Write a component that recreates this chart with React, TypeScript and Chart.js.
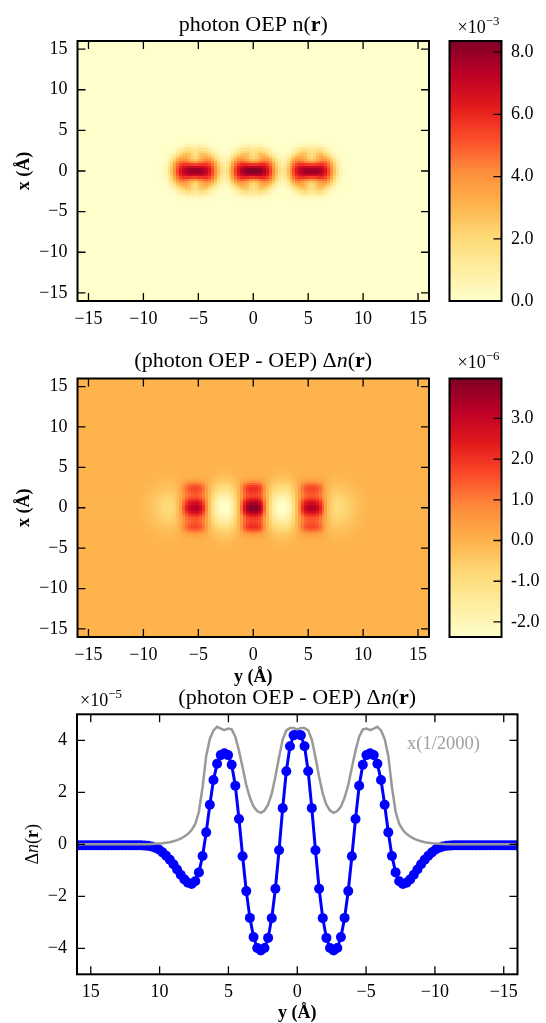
import React, { useEffect, useRef } from "react";
import { Chart, registerables } from "chart.js";

Chart.register(...registerables);

const PAGE_W = 546;
const PAGE_H = 1023;
const SERIF = '"Liberation Serif", "Times New Roman", serif';

// ---------- data ----------
// sample positions along y (Å), 0.5 bohr grid
const GRID_Y = [
  -15.875, -15.611, -15.346, -15.082, -14.817, -14.552, -14.288, -14.023, -13.759, -13.494,
  -13.229, -12.965, -12.7, -12.436, -12.171, -11.906, -11.642, -11.377, -11.113, -10.848,
  -10.584, -10.319, -10.054, -9.79, -9.525, -9.261, -8.996, -8.731, -8.467, -8.202,
  -7.938, -7.673, -7.408, -7.144, -6.879, -6.615, -6.35, -6.086, -5.821, -5.556,
  -5.292, -5.027, -4.763, -4.498, -4.233, -3.969, -3.704, -3.44, -3.175, -2.91,
  -2.646, -2.381, -2.117, -1.852, -1.588, -1.323, -1.058, -0.794, -0.529, -0.265,
  0,
  0.265, 0.529, 0.794, 1.058, 1.323, 1.588, 1.852, 2.117, 2.381, 2.646,
  2.91, 3.175, 3.44, 3.704, 3.969, 4.233, 4.498, 4.763, 5.027, 5.292,
  5.556, 5.821, 6.086, 6.35, 6.615, 6.879, 7.144, 7.408, 7.673, 7.938,
  8.202, 8.467, 8.731, 8.996, 9.261, 9.525, 9.79, 10.054, 10.319, 10.584,
  10.848, 11.113, 11.377, 11.642, 11.906, 12.171, 12.436, 12.7, 12.965, 13.229,
  13.494, 13.759, 14.023, 14.288, 14.552, 14.817, 15.082, 15.346, 15.611, 15.875,
];

// (photon OEP - OEP) Δn along y, ×1e-5
const DN_LINE = [
  -0.04, -0.04, -0.04, -0.04, -0.04, -0.04, -0.04, -0.04, -0.04, -0.04,
  -0.04, -0.04, -0.04, -0.04, -0.04, -0.04, -0.04, -0.04, -0.05, -0.06,
  -0.08, -0.13, -0.2, -0.31, -0.44, -0.59, -0.77, -0.97, -1.17, -1.35,
  -1.48, -1.53, -1.42, -1.08, -0.45, 0.46, 1.52, 2.47, 3.1, 3.43,
  3.5, 3.43, 3.06, 2.25, 0.97, -0.46, -1.8, -2.83, -3.57, -3.99,
  -4.08, -3.99, -3.6, -2.84, -1.71, -0.23, 1.39, 2.81, 3.77, 4.19,
  4.25,
  4.19, 3.77, 2.81, 1.39, -0.23, -1.71, -2.84, -3.6, -3.99, -4.08,
  -3.99, -3.57, -2.83, -1.8, -0.46, 0.97, 2.25, 3.06, 3.43, 3.5,
  3.43, 3.1, 2.47, 1.52, 0.46, -0.45, -1.08, -1.42, -1.53, -1.48,
  -1.35, -1.17, -0.97, -0.77, -0.59, -0.44, -0.31, -0.2, -0.13, -0.08,
  -0.06, -0.05, -0.04, -0.04, -0.04, -0.04, -0.04, -0.04, -0.04, -0.04,
  -0.04, -0.04, -0.04, -0.04, -0.04, -0.04, -0.04, -0.04, -0.04, -0.04,
];

// photon OEP density along y, ×(1/2000), ×1e-5
const DENSITY_LINE = [
  0, 0, 0, 0, 0, 0, 0, 0, 0, 0,
  0, 0, 0, 0, 0, 0, 0, 0, 0, 0,
  0.01, 0.02, 0.03, 0.04, 0.06, 0.08, 0.12, 0.16, 0.22, 0.3,
  0.4, 0.55, 0.78, 1.25, 2.2, 3.4, 4.05, 4.38, 4.52, 4.45,
  4.39, 4.45, 4.42, 4.14, 3.6, 2.95, 2.28, 1.8, 1.45, 1.28,
  1.21, 1.3, 1.52, 1.95, 2.6, 3.35, 4.03, 4.38, 4.47, 4.47,
  4.42,
  4.47, 4.47, 4.38, 4.03, 3.35, 2.6, 1.95, 1.52, 1.3, 1.21,
  1.28, 1.45, 1.8, 2.28, 2.95, 3.6, 4.14, 4.42, 4.45, 4.39,
  4.45, 4.52, 4.38, 4.05, 3.4, 2.2, 1.25, 0.78, 0.55, 0.4,
  0.3, 0.22, 0.16, 0.12, 0.08, 0.06, 0.04, 0.03, 0.02, 0.01,
  0, 0, 0, 0, 0, 0, 0, 0, 0, 0,
  0, 0, 0, 0, 0, 0, 0, 0, 0, 0,
];

const MAP_TICKS = [-15, -10, -5, 0, 5, 10, 15];
const LINE_X_TICKS = [-15, -10, -5, 0, 5, 10, 15];
const LINE_Y_TICKS = [-4, -2, 0, 2, 4];
const CB1_TICKS = [0, 2, 4, 6, 8];
const CB1_LABELS = ["0.0", "2.0", "4.0", "6.0", "8.0"];
const CB1_RANGE = [0, 8.36]; // ×1e-3
const CB2_TICKS = [-2, -1, 0, 1, 2, 3];
const CB2_LABELS = ["-2.0", "-1.0", "0.0", "1.0", "2.0", "3.0"];
const CB2_RANGE = [-2.37, 3.98]; // ×1e-6

// density map: three atoms along y (×1e-3)
const ATOM_Y = [-5.29, 0, 5.29];
const CORE_AMP = [7.95, 8.36, 7.95];
const CORE_SIZE = [1.5, 1.12]; // half-widths along y, along x (Å)
const RING_AMP = [3.0, 3.0, 3.0];
const RING_SIZE = [2.0, 2.45]; // ellipse semi-axes along y, along x (Å)
const RING_SHAPE = [0.85, 0.38]; // relative radius, relative width
const RING_NOTCH = [0.42, 0.5]; // depth, width (Å) of the lighter top/bottom notch

// Δn map: profile along y from DN_LINE, spread along x
const DN_SCALE = [0.936, 0.581]; // positive part, negative part (×1e-6 per 1e-5)
const DN_CORE_X = [1.35, 2.4, 0.85, 0.48]; // core width, ear offset, ear width, ear weight
const DN_LOBE_X = 2.6;

const YLORRD = ["#ffffcc", "#ffeda0", "#fed976", "#feb24c", "#fd8d3c", "#fc4e2a", "#e31a1c", "#bd0026", "#800026"];

// ---------- helpers ----------
const CMAP_RGB = YLORRD.map((h) => [parseInt(h.slice(1, 3), 16), parseInt(h.slice(3, 5), 16), parseInt(h.slice(5, 7), 16)]);
function cmap(f: number): string {
  const t = Math.min(1, Math.max(0, f)) * (CMAP_RGB.length - 1);
  const i = Math.min(CMAP_RGB.length - 2, Math.floor(t));
  const u = t - i;
  const a = CMAP_RGB[i];
  const b = CMAP_RGB[i + 1];
  return `rgb(${Math.round(a[0] + (b[0] - a[0]) * u)},${Math.round(a[1] + (b[1] - a[1]) * u)},${Math.round(a[2] + (b[2] - a[2]) * u)})`;
}

function buildDensityField(): number[][] {
  return GRID_Y.map((xv) =>
    GRID_Y.map((yv) => {
      let v = 0;
      ATOM_Y.forEach((ya, a) => {
        const dy = yv - ya;
        const dx = xv;
        v += CORE_AMP[a] * Math.exp(-Math.pow(Math.abs(dy) / CORE_SIZE[0], 3) - Math.pow(Math.abs(dx) / CORE_SIZE[1], 2.5));
        const r = Math.sqrt((dy / RING_SIZE[0]) ** 2 + (dx / RING_SIZE[1]) ** 2);
        const notch = 1 - RING_NOTCH[0] * Math.exp(-((dy / RING_NOTCH[1]) ** 2));
        v += RING_AMP[a] * notch * Math.exp(-(((r - RING_SHAPE[0]) / RING_SHAPE[1]) ** 2));
      });
      return v;
    })
  );
}

function buildDeltaField(): number[][] {
  return GRID_Y.map((xv) => {
    const vc = Math.exp(-((xv / DN_CORE_X[0]) ** 2)) + DN_CORE_X[3] * Math.exp(-(((Math.abs(xv) - DN_CORE_X[1]) / DN_CORE_X[2]) ** 2));
    const vn = Math.exp(-((xv / DN_LOBE_X) ** 2));
    return DN_LINE.map((b) => (b > 0 ? b * DN_SCALE[0] * vc : b * DN_SCALE[1] * vn));
  });
}

type Part = { t: string; b?: boolean; i?: boolean; sup?: boolean };
type Label = { x: number; y: number; parts: Part[]; size: number; align?: "left" | "center" | "right"; rot?: number; color?: string; base?: CanvasTextBaseline };

function fontFor(p: Part, size: number) {
  const s = p.sup ? size * 0.72 : size;
  return `${p.i ? "italic " : ""}${p.b ? "bold " : ""}${s}px ${SERIF}`;
}

function labelsPlugin(labels: Label[]) {
  return {
    id: "richLabels",
    afterDraw(chart: any) {
      const ctx: CanvasRenderingContext2D = chart.ctx;
      for (const L of labels) {
        ctx.save();
        ctx.translate(L.x, L.y);
        if (L.rot) ctx.rotate(L.rot);
        ctx.textBaseline = L.base || "alphabetic";
        ctx.textAlign = "left";
        ctx.fillStyle = L.color || "#000";
        let total = 0;
        const widths = L.parts.map((p) => {
          ctx.font = fontFor(p, L.size);
          const w = ctx.measureText(p.t).width;
          total += w;
          return w;
        });
        let cx = L.align === "left" ? 0 : L.align === "right" ? -total : -total / 2;
        L.parts.forEach((p, k) => {
          ctx.font = fontFor(p, L.size);
          ctx.fillText(p.t, cx, p.sup ? -L.size * 0.42 : 0);
          cx += widths[k];
        });
        ctx.restore();
      }
    },
  };
}

function heatmapPlugin(field: number[][], range: number[]) {
  return {
    id: "heatmap",
    beforeDatasetsDraw(chart: any) {
      const { ctx, chartArea: ca, scales } = chart;
      const n = GRID_Y.length;
      const edges: number[] = GRID_Y.map((g, k) => (k === 0 ? g - (GRID_Y[1] - GRID_Y[0]) / 2 : (GRID_Y[k - 1] + g) / 2));
      edges.push(GRID_Y[n - 1] + (GRID_Y[n - 1] - GRID_Y[n - 2]) / 2);
      const px = edges.map((e) => Math.round(scales.x.getPixelForValue(e)));
      const py = edges.map((e) => Math.round(scales.y.getPixelForValue(e)));
      ctx.save();
      ctx.beginPath();
      ctx.rect(ca.left, ca.top, ca.right - ca.left, ca.bottom - ca.top);
      ctx.clip();
      for (let i = 0; i < n; i++) {
        for (let j = 0; j < n; j++) {
          ctx.fillStyle = cmap((field[i][j] - range[0]) / (range[1] - range[0]));
          ctx.fillRect(px[j], py[i + 1], px[j + 1] - px[j], py[i] - py[i + 1]);
        }
      }
      ctx.restore();
    },
  };
}

function colorbarPlugin(range: number[]) {
  return {
    id: "colorbar",
    beforeDatasetsDraw(chart: any) {
      const { ctx, chartArea: ca, scales } = chart;
      const N = 120;
      for (let k = 0; k < N; k++) {
        const v0 = range[0] + ((range[1] - range[0]) * k) / N;
        const v1 = range[0] + ((range[1] - range[0]) * (k + 1)) / N;
        const p0 = Math.round(scales.y.getPixelForValue(v0));
        const p1 = Math.round(scales.y.getPixelForValue(v1));
        ctx.fillStyle = cmap((k + 0.5) / N);
        ctx.fillRect(ca.left, p1, ca.right - ca.left, p0 - p1 + 0.5);
      }
    },
  };
}

const TICK_LEN = 8;
function framePlugin(xTicks: number[], yTicks: number[], mode: "box" | "bar") {
  return {
    id: "frame",
    afterDraw(chart: any) {
      const { ctx, chartArea: ca, scales } = chart;
      ctx.save();
      ctx.strokeStyle = "#000";
      ctx.lineWidth = 1.3;
      ctx.beginPath();
      if (mode === "box") {
        for (const v of xTicks) {
          const p = scales.x.getPixelForValue(v);
          ctx.moveTo(p, ca.top);
          ctx.lineTo(p, ca.top + TICK_LEN);
          ctx.moveTo(p, ca.bottom);
          ctx.lineTo(p, ca.bottom - TICK_LEN);
        }
      }
      for (const v of yTicks) {
        const p = scales.y.getPixelForValue(v);
        if (mode === "box") {
          ctx.moveTo(ca.left, p);
          ctx.lineTo(ca.left + TICK_LEN, p);
        }
        ctx.moveTo(ca.right, p);
        ctx.lineTo(ca.right - TICK_LEN, p);
      }
      ctx.stroke();
      ctx.lineWidth = 2;
      ctx.strokeRect(ca.left, ca.top, ca.right - ca.left, ca.bottom - ca.top);
      ctx.restore();
    },
  };
}

const minusFmt = (v: number) => (v < 0 ? "\u2212" + Math.abs(v) : String(v));
const TICK_FONT = { family: SERIF, size: 18 };
const AX_W = 70; // width reserved for a y axis (labels live inside it)
const AX_H = 40; // height reserved for an x axis
const CB_W = 40;

function linScale(axis: "x" | "y", min: number, max: number, ticks: number[], fmt: (v: number, i: number) => string, extra: any = {}, size?: number) {
  const horizontal = axis === "x";
  return {
    type: "linear",
    min,
    max,
    position: horizontal ? "bottom" : "left",
    grid: { display: false, drawTicks: false },
    border: { display: false },
    ticks: {
      autoSkip: false,
      maxRotation: 0,
      minRotation: 0,
      padding: horizontal ? 7.5 : 10,
      color: "#000",
      font: TICK_FONT,
      callback: (v: number, i: number) => fmt(v, i),
    },
    afterBuildTicks: (s: any) => {
      s.ticks = ticks.map((v) => ({ value: v }));
    },
    afterFit: (s: any) => {
      if (horizontal) {
        s.height = size ?? AX_H;
        s.paddingLeft = 0;
        s.paddingRight = 0;
      } else {
        s.width = size ?? AX_W;
        s.paddingTop = 0;
        s.paddingBottom = 0;
      }
    },
    ...extra,
  };
}

type Area = { l: number; r: number; t: number; b: number };
const P1: Area = { l: 77.5, r: 429, t: 41, b: 301 };
const P2: Area = { l: 77.5, r: 429, t: 378.5, b: 637 };
const P3: Area = { l: 77, r: 517.5, t: 714.3, b: 974.3 };
const CB1: Area = { l: 449.5, r: 501.5, t: 41, b: 301 };
const CB2: Area = { l: 449.5, r: 501.5, t: 378.5, b: 637 };

const common = {
  responsive: false,
  animation: false,
  devicePixelRatio: 1,
  events: [],
  plugins: { legend: { display: false }, tooltip: { enabled: false }, title: { display: false } },
};

function panelPadding(a: Area) {
  return { left: a.l - AX_W, right: PAGE_W - a.r, top: a.t, bottom: PAGE_H - a.b - AX_H };
}

function heatmapConfig(area: Area, field: number[][], range: number[], labels: Label[]): any {
  return {
    type: "scatter",
    data: { datasets: [] },
    options: {
      ...common,
      layout: { padding: panelPadding(area) },
      scales: {
        x: linScale("x", -16, 16, MAP_TICKS, minusFmt),
        y: linScale("y", -16, 16, MAP_TICKS, minusFmt),
      },
    },
    plugins: [heatmapPlugin(field, range), framePlugin(MAP_TICKS, MAP_TICKS, "box"), labelsPlugin(labels)],
  };
}

function colorbarConfig(area: Area, range: number[], ticks: number[], tickLabels: string[], labels: Label[]): any {
  const y = linScale("y", range[0], range[1], ticks, (_v, i) => tickLabels[i], {}, CB_W);
  y.position = "right";
  y.ticks.padding = 9.5;
  return {
    type: "scatter",
    data: { datasets: [] },
    options: {
      ...common,
      layout: { padding: { left: area.l, right: PAGE_W - area.r - CB_W, top: area.t, bottom: PAGE_H - area.b } },
      scales: {
        x: { type: "linear", display: false, min: 0, max: 1 },
        y,
      },
    },
    plugins: [colorbarPlugin(range), framePlugin([], ticks, "bar"), labelsPlugin(labels)],
  };
}

function lineConfig(): any {
  const pts = (vals: number[]) => GRID_Y.map((g, k) => ({ x: g, y: vals[k] }));
  return {
    type: "scatter",
    data: {
      datasets: [
        {
          label: "n x(1/2000)",
          data: pts(DENSITY_LINE),
          showLine: true,
          borderColor: "#999999",
          borderWidth: 2.5,
          pointRadius: 0,
          order: 0,
        },
        {
          label: "Δn",
          data: pts(DN_LINE),
          showLine: true,
          borderColor: "#0000ff",
          backgroundColor: "#0000ff",
          borderWidth: 3,
          pointRadius: 5,
          pointBorderWidth: 0,
          order: 1,
        },
      ],
    },
    options: {
      ...common,
      layout: { padding: panelPadding(P3) },
      scales: {
        x: linScale("x", -16, 16, LINE_X_TICKS, minusFmt, { reverse: true }),
        y: linScale("y", -5, 5, LINE_Y_TICKS, minusFmt),
      },
    },
    plugins: [
      framePlugin(LINE_X_TICKS, LINE_Y_TICKS, "box"),
      labelsPlugin([
        { x: 297.25, y: 703.5, size: 22, parts: [{ t: "(photon OEP - OEP) \u0394" }, { t: "n", i: true }, { t: "(" }, { t: "r", b: true }, { t: ")" }] },
        { x: 80, y: 706, size: 18, align: "left", parts: [{ t: "\u00d710" }, { t: "\u22125", sup: true }] },
        { x: 33, y: 844.3, size: 18, rot: -Math.PI / 2, base: "middle", parts: [{ t: "\u0394" }, { t: "n", i: true }, { t: "(" }, { t: "r", b: true }, { t: ")" }] },
        { x: 297.25, y: 1018, size: 18, parts: [{ t: "y (\u00c5)", b: true }] },
        { x: 407, y: 744, size: 18.5, align: "left", base: "middle", color: "#a0a0a0", parts: [{ t: "x(1/2000)" }] },
      ]),
    ],
  };
}

export default function App() {
  const r1 = useRef<HTMLCanvasElement>(null);
  const r2 = useRef<HTMLCanvasElement>(null);
  const r3 = useRef<HTMLCanvasElement>(null);
  const r4 = useRef<HTMLCanvasElement>(null);
  const r5 = useRef<HTMLCanvasElement>(null);

  useEffect(() => {
    const dens = buildDensityField();
    const delta = buildDeltaField();
    const titleDelta: Part[] = [{ t: "(photon OEP - OEP) \u0394" }, { t: "n", i: true }, { t: "(" }, { t: "r", b: true }, { t: ")" }];
    const charts: Chart[] = [
      new Chart(
        r1.current!,
        heatmapConfig(P1, dens, CB1_RANGE, [
          { x: 253.25, y: 31, size: 22, parts: [{ t: "photon OEP n(" }, { t: "r", b: true }, { t: ")" }] },
          { x: 24, y: 171, size: 18, rot: -Math.PI / 2, base: "middle", parts: [{ t: "x (\u00c5)", b: true }] },
        ])
      ),
      new Chart(
        r2.current!,
        colorbarConfig(CB1, CB1_RANGE, CB1_TICKS, CB1_LABELS, [
          { x: 457.5, y: 32.5, size: 18, align: "left", parts: [{ t: "\u00d710" }, { t: "\u22123", sup: true }] },
        ])
      ),
      new Chart(
        r3.current!,
        heatmapConfig(P2, delta, CB2_RANGE, [
          { x: 253.25, y: 366.5, size: 22, parts: titleDelta },
          { x: 24, y: 507.75, size: 18, rot: -Math.PI / 2, base: "middle", parts: [{ t: "x (\u00c5)", b: true }] },
          { x: 253.25, y: 682, size: 18, parts: [{ t: "y (\u00c5)", b: true }] },
        ])
      ),
      new Chart(
        r4.current!,
        colorbarConfig(CB2, CB2_RANGE, CB2_TICKS, CB2_LABELS, [
          { x: 457.5, y: 368, size: 18, align: "left", parts: [{ t: "\u00d710" }, { t: "\u22126", sup: true }] },
        ])
      ),
      new Chart(r5.current!, lineConfig()),
    ];
    return () => charts.forEach((c) => c.destroy());
  }, []);

  const cv = { position: "absolute" as const, left: 0, top: 0, width: PAGE_W, height: PAGE_H };
  return (
    <div style={{ position: "absolute", left: 0, top: 0, width: PAGE_W, height: PAGE_H, overflow: "hidden", background: "#fff" }}>
      <canvas ref={r1} width={PAGE_W} height={PAGE_H} style={cv} />
      <canvas ref={r2} width={PAGE_W} height={PAGE_H} style={cv} />
      <canvas ref={r3} width={PAGE_W} height={PAGE_H} style={cv} />
      <canvas ref={r4} width={PAGE_W} height={PAGE_H} style={cv} />
      <canvas ref={r5} width={PAGE_W} height={PAGE_H} style={cv} />
    </div>
  );
}
